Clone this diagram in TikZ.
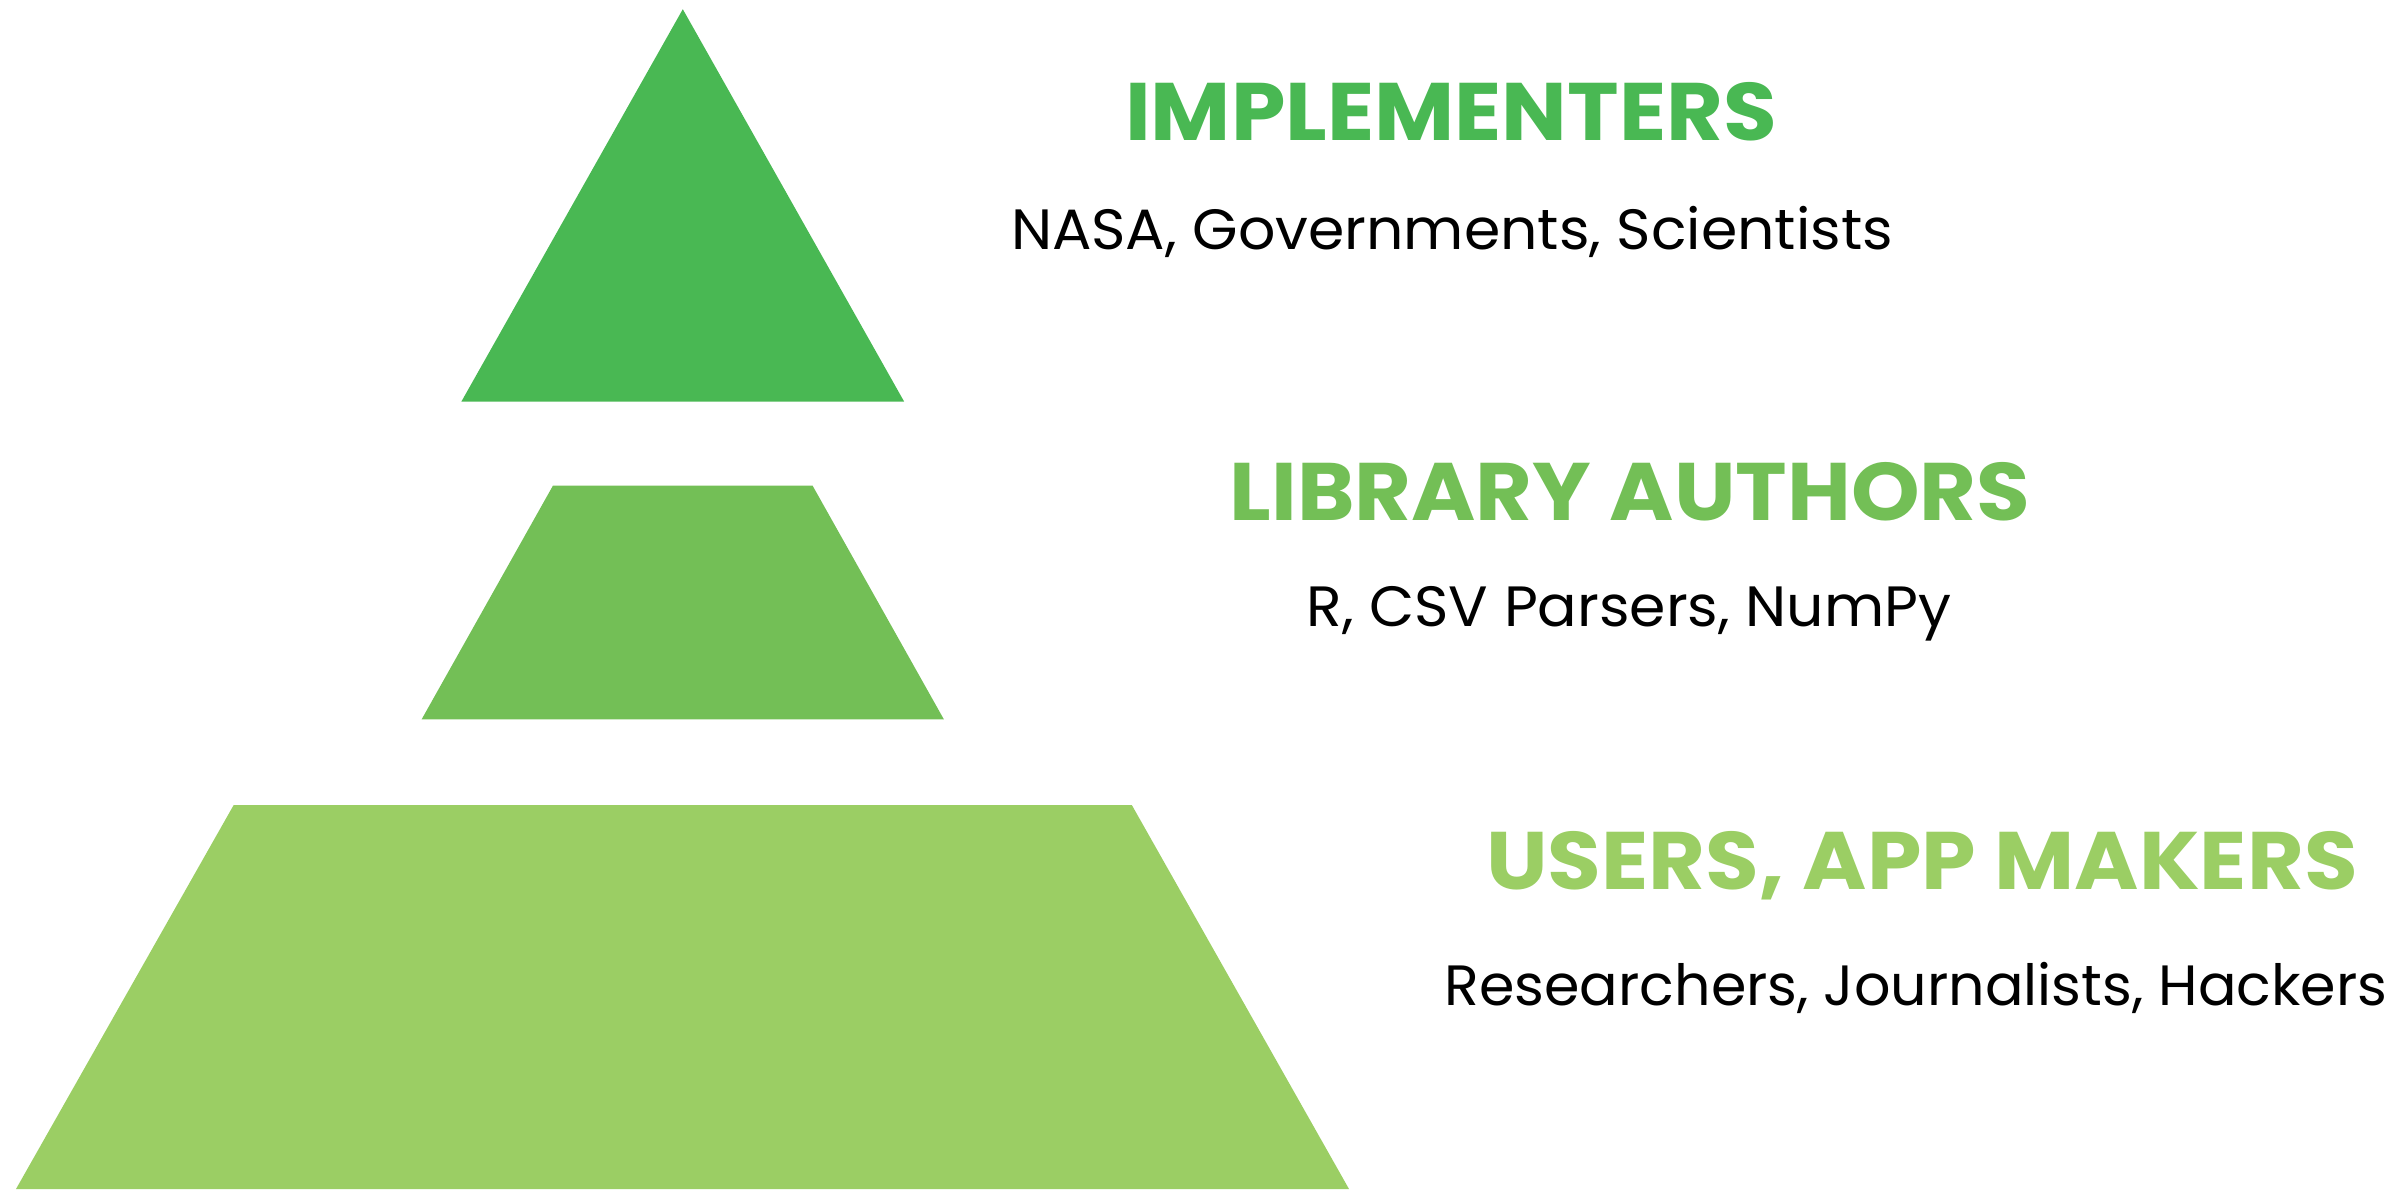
\documentclass[tikz,border=0pt]{standalone}
\usepackage{fontspec}
\setmainfont{Poppins}
\newfontfamily\titlefont{Poppins}[FakeStretch=1.07]
\newfontfamily\bodyfont{Poppins}[FakeStretch=1.03]
\newfontfamily\bodyfontn{Poppins}[FakeStretch=1.005]
\definecolor{gTop}{HTML}{49B853}
\definecolor{gMid}{HTML}{73BF56}
\definecolor{gBot}{HTML}{9BCE64}
\tikzset{
  titletext/.style={anchor=base, inner sep=0pt, font=\titlefont\fontsize{20.4}{24}\selectfont\bfseries},
  bodytext/.style={anchor=base, inner sep=0pt, text=black, font=\bodyfont\fontsize{14.2}{17}\selectfont},
  bodytextn/.style={anchor=base, inner sep=0pt, text=black, font=\bodyfontn\fontsize{14.2}{17}\selectfont},
}
\begin{document}
\begin{tikzpicture}[x=0.25pt,y=-0.25pt]
\useasboundingbox (0,0) rectangle (2395,1189);
% pyramid pieces
\fill[gTop] (682.8,9.2) -- (904.2,401.7) -- (461.3,401.7) -- cycle;
\fill[gMid] (552.9,485.7) -- (812.6,485.7) -- (943.9,719.4) -- (421.6,719.4) -- cycle;
\fill[gBot] (233.7,805.0) -- (1131.8,805.0) -- (1349,1189) -- (16,1189) -- cycle;
% labels
\node[titletext, text=gTop] (t1) at (1451,140) {IMPLEMENTERS};
\node[bodytext] (b1) at (1452,249) {NASA, Governments, Scientists};
\node[titletext, text=gMid] (t2) at (1630,520) {LIBRARY AUTHORS};
\node[bodytext] (b2) at (1629,626) {R, CSV Parsers, NumPy};
\node[titletext, text=gBot] (t3) at (1922,889) {USERS, APP MAKERS};
\node[bodytextn] (b3) at (1916,1005) {Researchers, Journalists, Hackers};
\end{tikzpicture}
\end{document}
